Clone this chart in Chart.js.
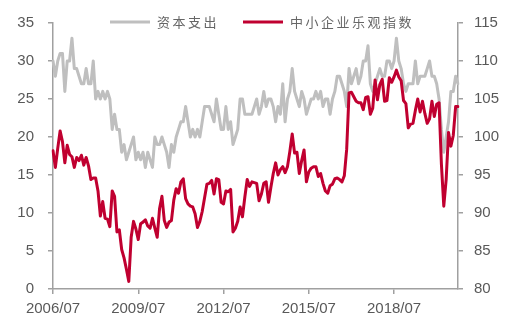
<!DOCTYPE html>
<html>
<head>
<meta charset="utf-8">
<script src="https://cdn.jsdelivr.net/npm/chart.js@4.4.1/dist/chart.umd.min.js"></script>
<style>
	html, body { margin: 0; padding: 0; background: #fff; }
</style>
</head>
<body>
<canvas id="chart" width="516" height="327"></canvas>
<script>
(function () {
	'use strict';

	// monthly, 2006/07 .. 2020/10
	var startYear = 2006,
		startMonth = 7,
		monthCount = 172;

	var tickLabels = ['2006/07', '2009/07', '2012/07', '2015/07', '2018/07'];

	// 资本支出 (left axis)
	var capex = [
		30, 28, 30, 31, 31, 26,
		30, 30, 33, 29, 29, 28, 27, 27, 29, 27, 27, 30,
		25, 26, 25, 26, 25, 26, 25, 21, 23, 21, 21, 18,
		19, 17, 18, 19, 20, 17, 18, 17, 18, 16, 18, 17,
		16, 20, 19, 19, 20, 19, 18, 16, 19, 18, 20, 21,
		22, 22, 24, 22, 20, 21, 20, 21, 20, 22, 24, 24,
		24, 23, 22, 25, 23, 21, 21, 24, 21, 22, 19, 20,
		21, 25, 25, 23, 23, 23, 23, 24, 25, 23, 24, 26,
		24, 25, 25, 24, 22, 24, 23, 27, 22, 25, 26, 29,
		26, 25, 24, 26, 25, 23, 24, 25, 25, 26, 25, 26,
		24, 25, 25, 23, 25, 26, 28, 28, 27, 26, 24, 29,
		27, 28, 29, 27, 28, 30, 30, 32, 27, 26, 27, 28,
		29, 28, 28, 30, 30, 29, 30, 33, 30, 29, 27, 26,
		27, 27, 27, 30, 27, 28, 28, 28, 29, 30, 28, 28,
		27, 25, 21, 18, 20, 22, 26, 26, 28, 27
	];

	// 中小企业乐观指数 (right axis)
	var optimism = [
		98.2, 96.0, 98.5, 100.8, 99.4, 96.6,
		98.9, 97.7, 97.4, 96.0, 97.3, 96.9, 97.6, 96.3, 97.3, 96.2, 94.4, 94.6,
		94.6, 92.9, 89.6, 91.5, 89.3, 89.2, 88.2, 92.9, 92.2, 87.5, 87.8, 85.2,
		84.1, 82.6, 81.0, 86.8, 88.9, 87.9, 86.5, 88.6, 88.8, 89.1, 88.3, 88.0,
		89.3, 88.0, 86.8, 90.6, 92.2, 89.0, 88.1, 88.8, 89.0, 91.7, 93.2, 92.6,
		94.1, 94.5, 91.9, 91.2, 90.9, 90.8, 89.9, 88.1, 88.9, 90.2, 92.0, 93.8,
		93.9, 94.3, 92.5, 94.5, 94.4, 91.4, 91.2, 92.9, 92.8, 93.1, 87.5, 88.0,
		88.9, 90.8, 89.5, 92.1, 94.4, 93.5, 94.1, 94.0, 93.9, 91.6, 92.5, 93.9,
		94.1, 91.4, 93.4, 95.2, 96.6, 95.0, 95.7, 96.1, 95.3, 96.1, 98.1, 100.4,
		97.9, 98.0, 95.2, 96.9, 98.3, 94.1, 95.4, 95.9, 96.1, 96.1, 94.8, 95.2,
		93.9, 92.9, 92.6, 93.6, 93.8, 94.5, 94.6, 94.4, 94.1, 94.9, 98.4, 105.8,
		105.9, 105.3, 104.7, 104.5, 104.5, 103.6, 105.2, 105.3, 103.0, 103.8, 107.5, 104.9,
		106.9, 107.6, 104.7, 104.8, 107.8, 107.2, 107.9, 108.8, 107.9, 107.4, 104.8, 104.4,
		101.2, 101.7, 101.8, 103.5, 105.0, 103.3, 104.7, 103.1, 101.8, 102.4, 104.7, 102.7,
		104.3, 104.5, 96.4, 90.9, 94.4, 100.6, 98.8, 100.2, 104.0, 104.0
	];

	var months = [];
	for (var i = 0; i < monthCount; i++) {
		var m = startMonth - 1 + i,
			y = startYear + Math.floor(m / 12),
			mm = (m % 12) + 1;
		months.push(y + '/' + (mm < 10 ? '0' + mm : mm));
	}

	var textColor = '#595959',
		axisColor = '#a0a0a0',
		tickFont = { family: '"Liberation Sans", Arial, sans-serif', size: 15 };

	// legend drawn inside the top of the plot, like the original
	var lineLegend = {
		id: 'lineLegend',
		afterDraw: function (chart, args, opts) {
			var ctx = chart.ctx;
			ctx.save();
			ctx.font = opts.font;
			ctx.letterSpacing = opts.letterSpacing;
			ctx.textBaseline = 'middle';
			ctx.fillStyle = opts.color;
			chart.data.datasets.forEach(function (ds, i) {
				var x = opts.x[i];
				ctx.strokeStyle = ds.borderColor;
				ctx.lineWidth = ds.borderWidth;
				ctx.beginPath();
				ctx.moveTo(x, opts.y);
				ctx.lineTo(x + opts.lineLength, opts.y);
				ctx.stroke();
				ctx.fillText(ds.label, x + opts.lineLength + opts.gap, opts.y);
			});
			ctx.restore();
		}
	};

	function yAxis(position, min, max, padding, width) {
		return {
			position: position,
			min: min,
			max: max,
			grid: { drawOnChartArea: false, drawTicks: true, tickLength: 5, color: axisColor, lineWidth: 1.5 },
			border: { display: true, color: axisColor, width: 1.5 },
			ticks: { stepSize: 5, padding: padding, color: textColor, font: tickFont },
			afterFit: function (scale) {
				scale.width = width;
			}
		};
	}

	new Chart(document.getElementById('chart'), {
		type: 'line',
		data: {
			labels: months,
			datasets: [{
				label: '资本支出',
				data: capex,
				yAxisID: 'y',
				borderColor: '#bfbfbf',
				backgroundColor: '#bfbfbf',
				borderWidth: 3,
				order: 1
			}, {
				label: '中小企业乐观指数',
				data: optimism,
				yAxisID: 'y1',
				borderColor: '#c00030',
				backgroundColor: '#c00030',
				borderWidth: 3,
				order: 0
			}]
		},
		options: {
			responsive: false,
			animation: false,
			layout: { padding: { top: 23, left: 0, right: 0, bottom: 0 } },
			elements: {
				point: { radius: 0 },
				line: { tension: 0, borderJoinStyle: 'round', borderCapStyle: 'round' }
			},
			plugins: {
				legend: { display: false },
				tooltip: { enabled: false },
				lineLegend: {
					x: [110, 243],
					y: 22,
					lineLength: 40,
					gap: 7,
					font: '13px "Noto Sans CJK SC", sans-serif',
					letterSpacing: '2.5px',
					color: '#666666'
				}
			},
			scales: {
				x: {
					grid: { drawOnChartArea: false, drawTicks: true, tickLength: 5, color: axisColor, lineWidth: 1.5 },
					border: { display: true, color: axisColor, width: 1.5 },
					ticks: {
						autoSkip: false,
						maxRotation: 0,
						minRotation: 0,
						padding: 6,
						color: textColor,
						font: tickFont,
						callback: function (value, index) {
							var label = months[index];
							return tickLabels.indexOf(label) !== -1 ? label : null;
						}
					},
					afterFit: function (scale) {
						scale.height = 38;
					}
				},
				y: yAxis('left', 0, 35, 14, 53),
				y1: yAxis('right', 80, 115, 11, 58)
			}
		},
		plugins: [lineLegend]
	});
})();
</script>
</body>
</html>
